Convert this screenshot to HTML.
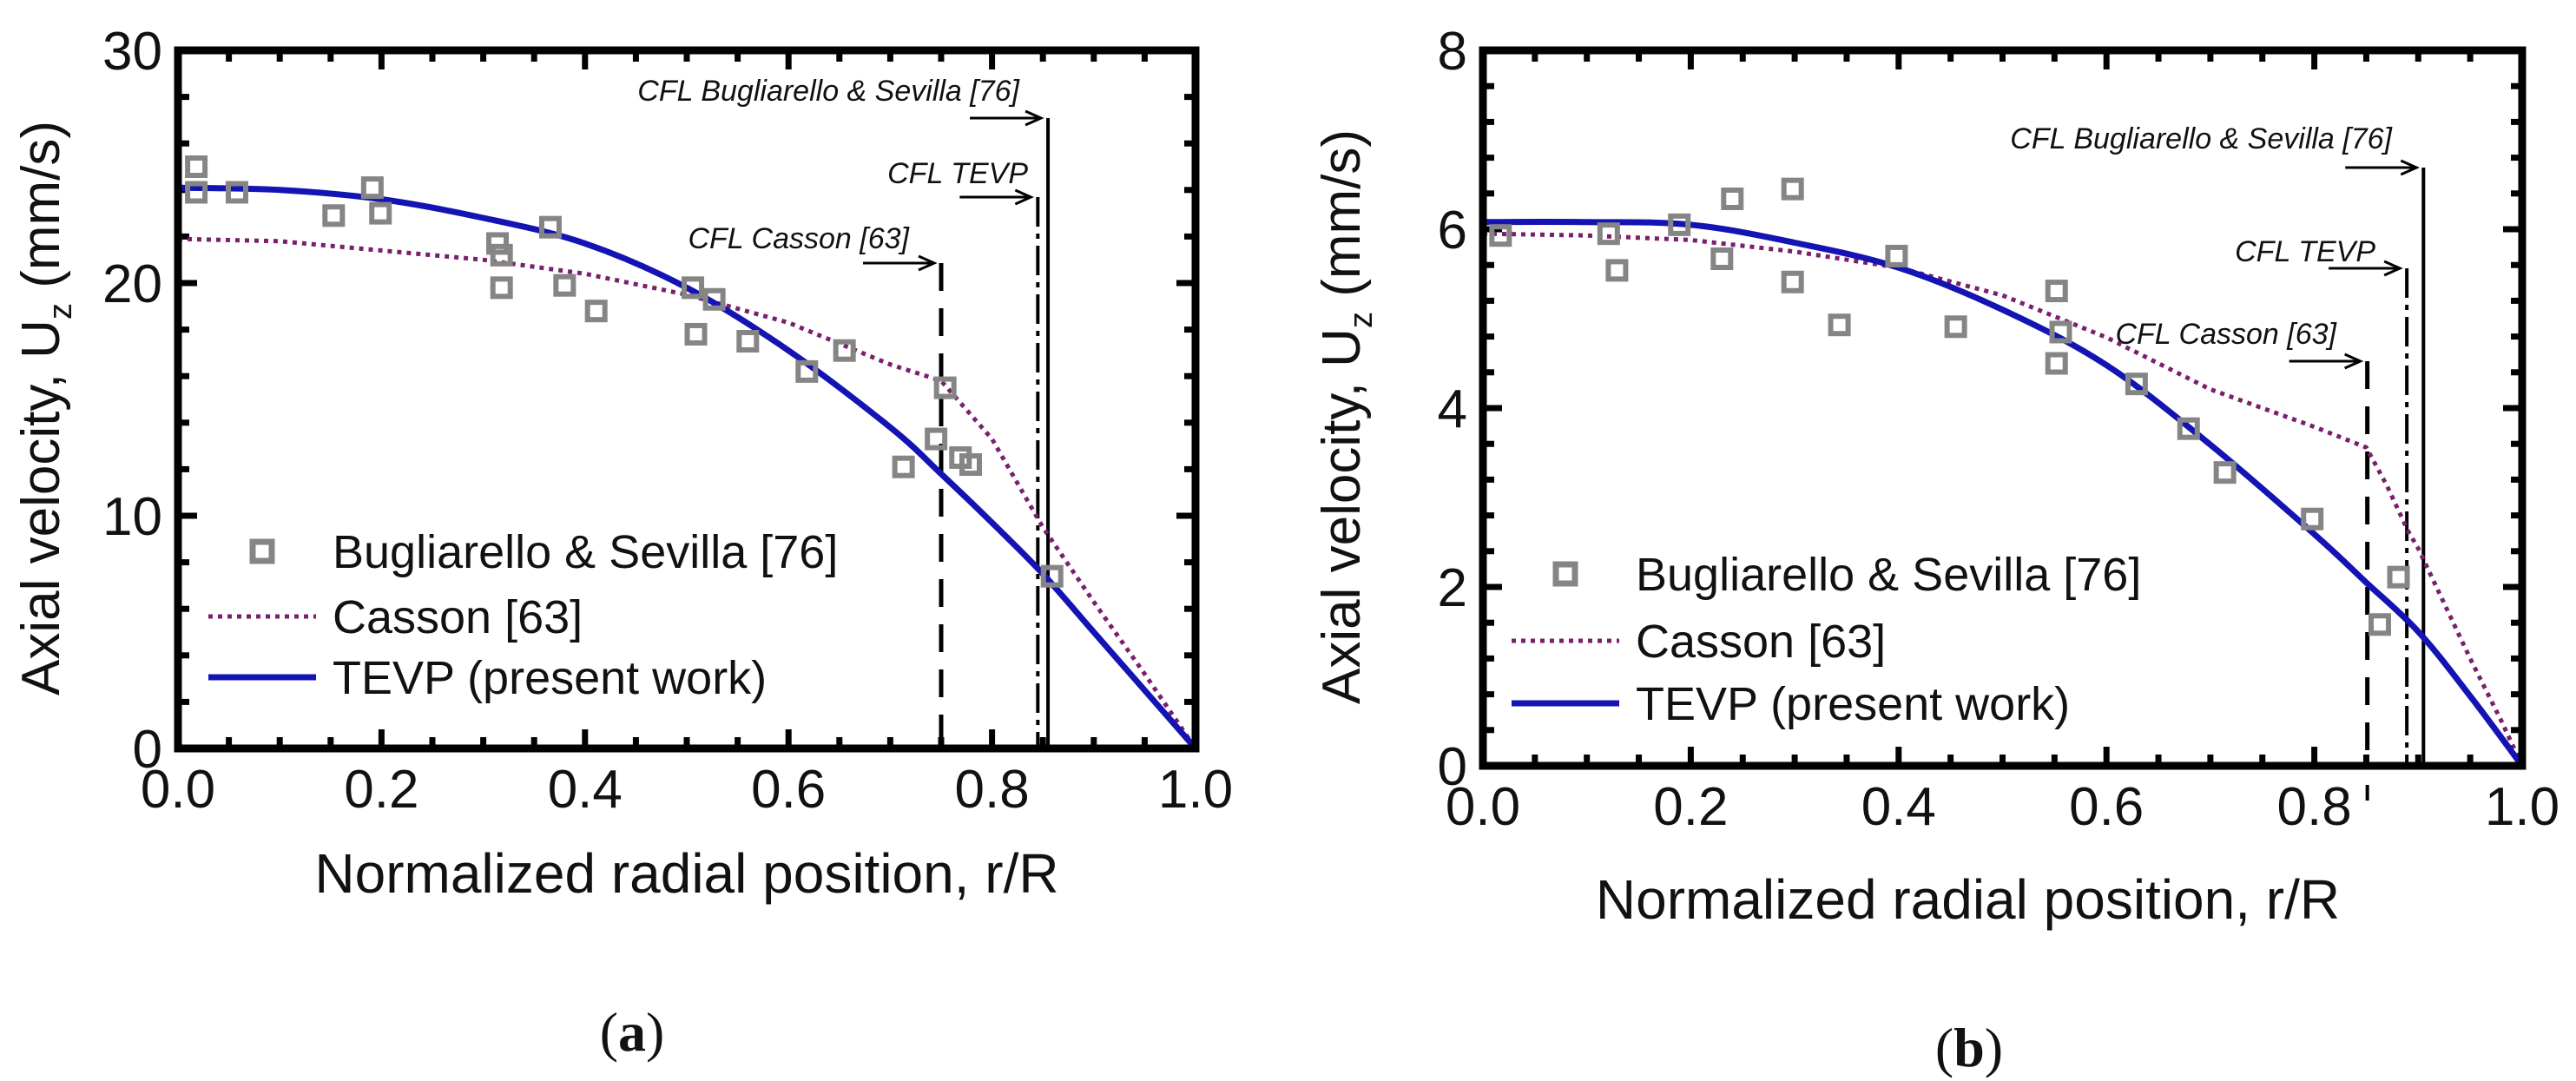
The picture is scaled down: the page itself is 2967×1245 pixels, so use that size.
<!DOCTYPE html>
<html><head><meta charset="utf-8">
<style>
html,body{margin:0;padding:0;background:#fff;}
svg{display:block;}
text{font-family:"Liberation Sans","DejaVu Sans",sans-serif;fill:#111;}
.cap{font-family:"Liberation Serif",serif;}
</style></head>
<body>
<svg id="fig" width="2967" height="1245" viewBox="0 0 2967 1245" xmlns="http://www.w3.org/2000/svg"></svg>
<script>
// ---------- Panel (a) data ----------
const aExpX = [0.018,0.018,0.058,0.153,0.191,0.199,0.314,0.318,0.318,0.366,0.380,0.411,0.506,0.527,0.509,0.560,0.618,0.655,0.713,0.745,0.754,0.769,0.779,0.859];
const aExpY = [25.0,23.9,23.9,22.9,24.1,23.0,21.7,21.2,19.8,22.4,19.9,18.8,19.8,19.3,17.8,17.5,16.2,17.1,12.1,13.3,15.5,12.5,12.2,7.4];
const aTevpX = [0,0.1,0.2,0.3,0.4,0.5,0.6,0.7,0.75,0.8,0.85,0.9,0.95,1.0];
const aTevpY = [24.1,24.0,23.6,22.8,21.7,19.8,17.1,13.8,11.8,9.7,7.5,5.0,2.5,0];
const aCassX = [0,0.1,0.2,0.3,0.4,0.5,0.6,0.7,0.75,0.8,0.85,0.9,0.95,1.0];
const aCassY = [21.9,21.8,21.4,21.0,20.4,19.5,18.3,16.5,15.8,13.3,9.5,6.3,3.2,0];
const aCfl = [0.75,0.845,0.855];
const aYTicks = [0,10,20,30];
const xTickLabels = ["0.0","0.2","0.4","0.6","0.8","1.0"];
// ---------- Panel (b) data ----------
const bExpX = [0.017,0.121,0.129,0.189,0.230,0.240,0.298,0.298,0.343,0.398,0.455,0.552,0.556,0.552,0.629,0.679,0.714,0.798,0.863,0.881];
const bExpY = [5.93,5.95,5.54,6.05,5.67,6.34,6.45,5.41,4.93,5.70,4.91,5.31,4.85,4.50,4.27,3.77,3.28,2.76,1.58,2.11];
const bTevpX = [0,0.1,0.2,0.3,0.4,0.5,0.6,0.7,0.8,0.85,0.9,0.95,1.0];
const bTevpY = [6.08,6.08,6.05,5.85,5.57,5.10,4.48,3.59,2.59,2.05,1.5,0.78,0];
const bCassX = [0,0.1,0.2,0.3,0.4,0.5,0.6,0.7,0.8,0.85,0.87,0.89,0.9,0.95,0.98,1.0];
const bCassY = [5.95,5.93,5.88,5.75,5.57,5.26,4.79,4.21,3.79,3.56,3.13,2.63,2.43,1.2,0.5,0];
const bCfl = [0.851,0.889,0.905];
const bYTicks = [0,2,4,6,8];

const NS="http://www.w3.org/2000/svg";
const svg=document.getElementById('fig');
function mk(tag,attrs,parent){const e=document.createElementNS(NS,tag);for(const k in attrs)e.setAttribute(k,attrs[k]);(parent||svg).appendChild(e);return e;}

function smoothPath(pts){
  let d='M'+pts[0][0].toFixed(1)+','+pts[0][1].toFixed(1);
  for(let i=0;i<pts.length-1;i++){
    const p0=pts[Math.max(0,i-1)],p1=pts[i],p2=pts[i+1],p3=pts[Math.min(pts.length-1,i+2)];
    const c1=[p1[0]+(p2[0]-p0[0])/6,p1[1]+(p2[1]-p0[1])/6];
    const c2=[p2[0]-(p3[0]-p1[0])/6,p2[1]-(p3[1]-p1[1])/6];
    d+=` C${c1[0].toFixed(1)},${c1[1].toFixed(1)} ${c2[0].toFixed(1)},${c2[1].toFixed(1)} ${p2[0].toFixed(1)},${p2[1].toFixed(1)}`;
  }
  return d;
}

function panel(cfg){
  const g=mk('g',{});
  
  
  const L=cfg.L,R=cfg.R,T=cfg.T,B=cfg.B,ymax=cfg.ymax;
  const sx=v=>L+v*(R-L);
  const sy=v=>B-v/ymax*(B-T);
  for(let i=0;i<=20;i++){
    const x=sx(i*0.05), len=(i%4===0)?22:13;
    let t=mk('line',{x1:x,y1:B,x2:x,y2:B-len,stroke:'#000','stroke-width':7},g);
    
    t=mk('line',{x1:x,y1:T,x2:x,y2:T+len,stroke:'#000','stroke-width':7},g);
    
  }
  const nMinor=cfg.nMinor;
  for(let i=0;i<=nMinor;i++){
    const v=i*ymax/nMinor, y=sy(v), len=(i%cfg.majEvery===0)?22:13;
    let t=mk('line',{x1:L,y1:y,x2:L+len,y2:y,stroke:'#000','stroke-width':7},g);
    
    t=mk('line',{x1:R,y1:y,x2:R-len,y2:y,stroke:'#000','stroke-width':7},g);
    
  }
  xTickLabels.forEach((s,i)=>{
    const t=mk('text',{x:sx(i*0.2),y:B+68,'text-anchor':'middle','font-size':62},g);t.textContent=s;
    
  });
  cfg.yTicks.forEach(v=>{
    const t=mk('text',{x:L-18,y:sy(v)+22,'text-anchor':'end','font-size':62},g);t.textContent=v;
    
  });
  const styles=[{d:'32,20',w:5},{d:'34,8,6,8',w:4},{d:'',w:4}];
  cfg.cfl.forEach((v,i)=>{
    const x=sx(v);
    const l=mk('line',{x1:x,y1:cfg.cflTop[i],x2:x,y2:B,stroke:'#000','stroke-width':styles[i].w,'stroke-dasharray':styles[i].d},g);
    
    const ay=cfg.cflTop[i], ax2=x-8, ax1=x-90;
    const a=mk('line',{x1:ax1,y1:ay,x2:ax2,y2:ay,stroke:'#000','stroke-width':3},g);
    
    const h=mk('path',{d:`M${ax2-18},${ay-8} L${ax2},${ay} L${ax2-18},${ay+8}`,fill:'none',stroke:'#000','stroke-width':3},g);
    
    const t=mk('text',{x:cfg.cflLabelX[i],y:ay-cfg.cflLabelDy[i],'text-anchor':'end','font-size':34,'font-style':'italic'},g);
    t.textContent=cfg.cflLabels[i];
    
  });
  if(cfg.extraDash){const l=mk('line',{x1:sx(cfg.cfl[0]),y1:B+22,x2:sx(cfg.cfl[0]),y2:B+40,stroke:'#000','stroke-width':4},g);
    }
  const path=(xs,ys)=>xs.map((x,i)=>(i?'L':'M')+sx(x).toFixed(1)+','+sy(ys[i]).toFixed(1)).join(' ');
  const c=mk('path',{d:path(cfg.cx,cfg.cy),fill:'none',stroke:'#7a1f6e','stroke-width':5,'stroke-dasharray':'5,6'},g);
  
  const tv=mk('path',{d:smoothPath(cfg.tx.map((x,i)=>[sx(x),sy(cfg.ty[i])])),fill:'none',stroke:'#1414b4','stroke-width':7},g);
  
  cfg.ex.forEach((x,i)=>{
    const r=mk('rect',{x:sx(x)-10,y:sy(cfg.ey[i])-10,width:20,height:20,fill:'none',stroke:'#858585','stroke-width':6},g);
    
  });
  const f=mk('rect',{x:L,y:T,width:R-L,height:B-T,fill:'none',stroke:'#000','stroke-width':9},g);
  
  const lx=cfg.legX, ly=cfg.legY;
  let e=mk('rect',{x:lx-11,y:ly[0]-11,width:22,height:22,fill:'none',stroke:'#858585','stroke-width':7},g);
  
  e=mk('line',{x1:lx-62,y1:ly[1],x2:lx+62,y2:ly[1],stroke:'#7a1f6e','stroke-width':5,'stroke-dasharray':'5,6'},g);
  
  e=mk('line',{x1:lx-62,y1:ly[2],x2:lx+62,y2:ly[2],stroke:'#1414b4','stroke-width':7},g);
  
  const labs=['Bugliarello & Sevilla [76]','Casson [63]','TEVP (present work)'];
  labs.forEach((s,i)=>{const t=mk('text',{x:cfg.legTextX,y:ly[i]+19,'font-size':54},g);t.textContent=s;
    });
  let t=mk('text',{x:(L+R)/2+cfg.xtDx,y:cfg.xtY,'text-anchor':'middle','font-size':64},g);
  t.textContent='Normalized radial position, r/R';
  
  t=mk('text',{x:0,y:0,'text-anchor':'middle','font-size':62,transform:`translate(${cfg.ytX},${(T+B)/2+10}) rotate(-90)`},g);
  t.innerHTML='Axial velocity, U<tspan font-size="38" dy="14">z</tspan><tspan dy="-14"> (mm/s)</tspan>';
  
  t=mk('text',{x:cfg.capX,y:cfg.capY,'text-anchor':'middle','font-size':64,'class':'cap'},g);
  t.innerHTML='(<tspan font-weight="bold">'+cfg.cap+'</tspan>)';
  
}

panel({name:'panel-a',L:205,R:1377,T:58,B:862,ymax:30,nMinor:15,majEvery:5,yTicks:aYTicks,
  cfl:aCfl,cflTop:[303,227,136],cflLabelX:[1047,1184,1174],cflLabelDy:[17,16,20],
  cflLabels:['CFL Casson [63]','CFL TEVP','CFL Bugliarello & Sevilla [76]'],
  cx:aCassX,cy:aCassY,tx:aTevpX,ty:aTevpY,ex:aExpX,ey:aExpY,
  legX:302,legY:[635,710,780],legTextX:383,xtDx:0,xtY:1028,ytX:68,capX:728,capY:1210,cap:'a'});
panel({name:'panel-b',L:1708,R:2905,T:58,B:882,ymax:8,nMinor:20,majEvery:5,yTicks:bYTicks,
  cfl:bCfl,cflTop:[416,309,193],cflLabelX:[2691,2736,2755],cflLabelDy:[20,8,22],
  cflLabels:['CFL Casson [63]','CFL TEVP','CFL Bugliarello & Sevilla [76]'],extraDash:true,
  cx:bCassX,cy:bCassY,tx:bTevpX,ty:bTevpY,ex:bExpX,ey:bExpY,
  legX:1803,legY:[661,738,810],legTextX:1884,xtDx:-40,xtY:1058,ytX:1566,capX:2268,capY:1228,cap:'b'});
</script>
</body></html>
